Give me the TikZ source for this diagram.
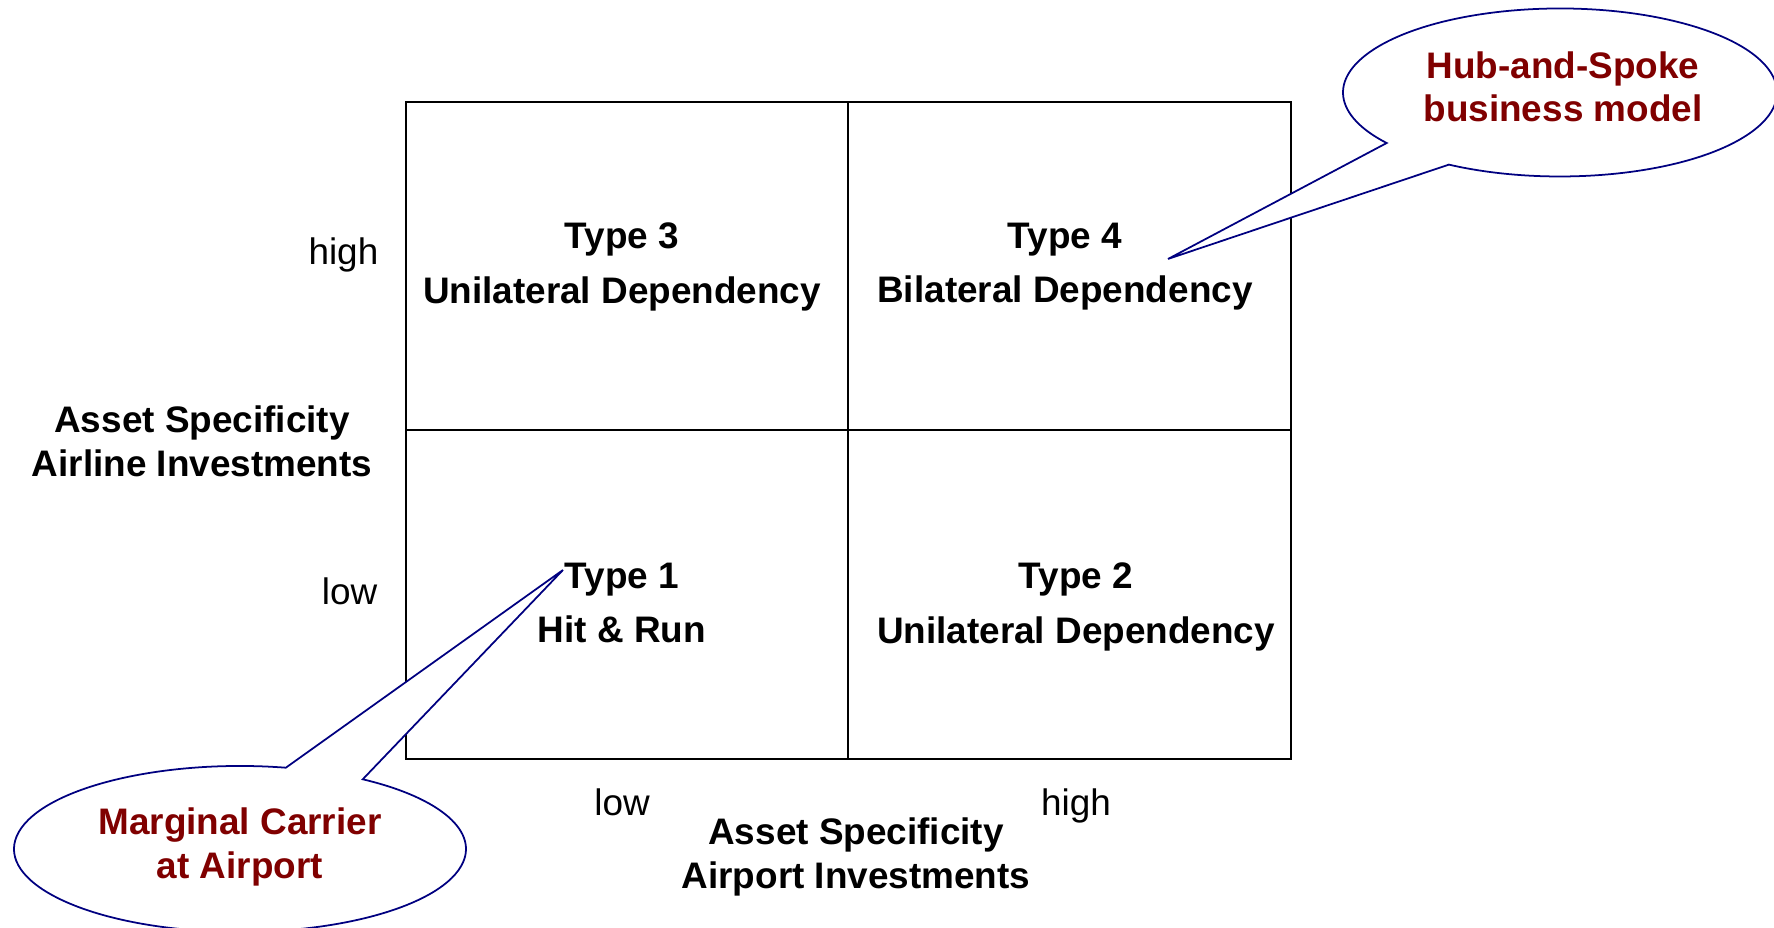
\documentclass[tikz,border=0pt]{standalone}
\usepackage{fontspec}
\setmainfont{Liberation Sans}
\usepackage{xcolor}
\usetikzlibrary{calc}

\definecolor{calloutblue}{RGB}{0,0,128}
\definecolor{calloutred}{RGB}{128,0,0}

\begin{document}
\begin{tikzpicture}[
    celltext/.style={align=center, font=\fontsize{10.5}{15.4}\selectfont\bfseries},
    axistext/.style={align=center, font=\fontsize{10.5}{12.5}\selectfont\bfseries},
    ticktext/.style={inner sep=0pt, font=\fontsize{10.5}{12.5}\selectfont},
    calltext/.style={align=center, text=calloutred, font=\fontsize{10.5}{12.4}\selectfont\bfseries},
    callout/.style={draw=calloutblue, line width=0.5pt, fill=white}
]
    % Page size
    \useasboundingbox (0,0) rectangle (17.74,9.28);

    % Draw the 2x2 matrix
    \draw[line width=0.6pt] (4.06,1.69) rectangle (12.91,8.26);
    \draw[line width=0.6pt] (8.48,1.69) -- (8.48,8.26);
    \draw[line width=0.6pt] (4.06,4.98) -- (12.91,4.98);

    % Speech bubble pointing at type 4
    \coordinate (hubc) at (15.60,8.355);
    \coordinate (hubtip) at (11.68,6.69);
    \draw[callout] (hubtip) -- ($(hubc)+(239.2:2.17 and 0.84)$)
        arc[start angle=239.2, end angle=577, x radius=2.17, y radius=0.84] -- cycle;

    % Speech bubble pointing at type 1
    \coordinate (margc) at (2.40,0.79);
    \coordinate (margtip) at (5.63,3.58);
    \draw[callout] (margtip) -- ($(margc)+(78.3:2.26 and 0.83)$)
        arc[start angle=78.3, end angle=417.1, x radius=2.26, y radius=0.83] -- cycle;

    % Cell labels
    \node[celltext] (type3) at (6.22,6.61) {Type 3\\Unilateral Dependency};
    \node[celltext] (type4) at (10.65,6.61) {Type 4\\Bilateral Dependency};
    \node[celltext] (type1) at (6.22,3.25) {Type 1\\Hit \& Run};
    \node[celltext] (type2) at (10.76,3.21) {Type 2\\Unilateral Dependency};

    % Axis ticks
    \node[ticktext, anchor=base east] (yhigh) at (3.79,6.63) {high};
    \node[ticktext, anchor=base east] (ylow) at (3.78,3.23) {low};
    \node[ticktext, anchor=base] (xlow) at (6.22,1.12) {low};
    \node[ticktext, anchor=base] (xhigh) at (10.76,1.12) {high};

    % Axis titles
    \node[axistext] (yaxis) at (2.02,4.87) {Asset Specificity\\Airline Investments};
    \node[axistext] (xaxis) at (8.56,0.71) {Asset Specificity\\Airport Investments};

    % Bubble texts
    \node[calltext] (hub) at (15.63,8.41) {Hub-and-Spoke\\business model};
    \node[calltext] (marginal) at (2.40,0.81) {Marginal Carrier\\at Airport};
\end{tikzpicture}
\end{document}
